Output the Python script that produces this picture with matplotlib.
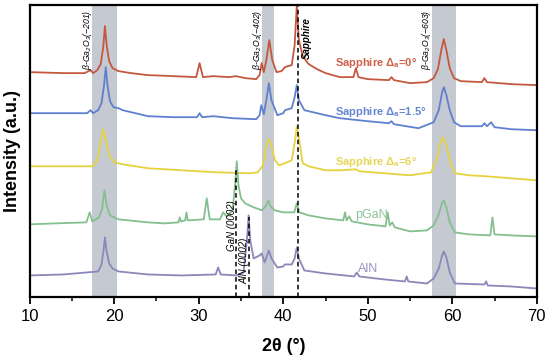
import matplotlib
matplotlib.use("Agg")
import matplotlib.pyplot as plt

plt.rcParams['font.family'] = ['Liberation Sans', 'DejaVu Sans']
plt.rcParams['mathtext.default'] = 'regular'

# XRD scans, (2theta, intensity a.u. incl. vertical offset)
red = [(10, 225), (14, 224), (16.5, 224), (17.2, 227), (17.5, 224), (18.0, 227), (18.4, 233),
       (18.7, 250), (18.9, 271), (19.1, 252), (19.4, 236), (19.8, 229), (20.5, 226), (22, 224),
       (24, 222), (27, 221), (29.7, 220), (30.1, 234), (30.5, 220), (31.7, 221), (33.6, 220),
       (34.4, 221), (35.5, 219), (36.8, 218), (37.2, 222), (37.45, 234), (37.7, 225), (38.0, 237),
       (38.35, 257), (38.7, 237), (39.2, 225), (39.8, 226), (40.2, 230), (41.0, 232), (41.35, 252),
       (41.6, 291), (41.85, 257), (42.3, 241), (43, 233), (44, 228), (45, 224), (46.7, 220),
       (48.3, 220), (48.6, 229), (48.9, 220), (50, 218), (52.5, 217), (52.8, 220), (53.1, 217),
       (55, 214), (57, 215), (57.8, 219), (58.3, 228), (58.7, 247), (59.0, 258), (59.3, 247),
       (59.7, 229), (60.2, 219), (61, 216), (63.5, 215), (63.8, 219), (64.1, 215), (67, 213),
       (70, 212)]
blue = [(10, 184), (16.8, 184), (17.2, 187), (17.5, 184), (18.1, 187), (18.5, 194), (18.8, 212),
        (19.0, 230), (19.2, 212), (19.5, 196), (19.9, 190), (20.5, 189), (21, 187), (24, 181),
        (27, 180), (29.8, 180), (30.1, 184), (30.4, 180), (31.7, 181), (34, 179), (36.8, 178),
        (37.2, 182), (37.4, 192), (37.7, 183), (38.0, 197), (38.3, 214), (38.6, 197), (39.3, 182),
        (40.0, 184), (40.2, 187), (41.0, 189), (41.35, 200), (41.6, 212), (41.85, 197), (42.5, 187),
        (44, 184), (45, 182), (46.7, 179), (50, 176), (52.5, 174), (52.8, 176), (53.1, 173),
        (56, 169), (57.8, 175), (58.4, 187), (58.8, 205), (59.0, 210), (59.3, 202), (59.7, 187),
        (60.2, 175), (61, 171), (63.5, 171), (63.8, 174), (64.1, 171), (64.6, 175), (65, 170),
        (67, 168), (70, 167)]
yellow = [(10, 131), (14, 131), (17.5, 131), (18.0, 137), (18.4, 157), (18.7, 168), (19.0, 157),
          (19.4, 142), (20, 135), (21, 133), (24, 129), (28, 127), (32, 125), (36, 124),
          (37.0, 125), (37.6, 132), (38.0, 152), (38.25, 158), (38.6, 152), (39.0, 137),
          (39.5, 132), (40.2, 134), (41.0, 137), (41.4, 157), (41.6, 171), (41.9, 157),
          (42.3, 134), (43, 131), (45, 127), (46.7, 127), (48.6, 128), (49, 126), (52, 124),
          (55, 122), (57.5, 125), (58.2, 139), (58.6, 155), (58.9, 160), (59.3, 152), (59.8, 134),
          (60.3, 124), (62, 122), (64, 121), (67, 119), (70, 117)]
green = [(10, 73), (13, 74), (16.7, 75), (17.1, 85), (17.4, 76), (18.2, 80), (18.55, 88),
         (18.85, 107), (19.1, 92), (19.5, 82), (20.5, 78), (24, 75), (26, 74), (27.6, 75),
         (27.75, 80), (27.9, 76), (28.4, 77), (28.55, 85), (28.7, 77), (30.6, 78), (30.95, 99),
         (31.3, 78), (32.5, 78), (32.9, 85), (33.3, 81), (34.0, 87), (34.3, 112), (34.5, 136),
         (34.7, 112), (35.0, 99), (35.5, 94), (36.5, 90), (37.5, 87), (38.0, 92), (38.25, 97),
         (38.5, 91), (39, 87), (40, 85), (41.3, 85), (41.6, 94), (41.9, 85), (43, 82), (45, 79),
         (47.1, 77), (47.3, 85), (47.5, 77), (47.8, 81), (48.1, 76), (50, 73), (52.1, 71),
         (52.35, 85), (52.6, 72), (52.9, 75), (53.2, 70), (55, 66), (57, 67), (57.8, 72),
         (58.4, 83), (58.8, 95), (59.0, 97), (59.3, 90), (59.7, 75), (60.3, 65), (62, 63),
         (64.5, 62), (64.75, 80), (65.0, 63), (67, 62), (70, 61)]
purple = [(10, 22), (14, 23), (18.1, 26), (18.5, 33), (18.75, 48), (18.9, 60), (19.1, 46),
          (19.4, 34), (19.8, 29), (20.5, 26), (24, 23), (28, 22), (32.0, 23), (32.3, 30),
          (32.6, 23), (34.5, 22), (35.3, 25), (35.7, 57), (35.9, 82), (36.1, 57), (36.5, 39),
          (37.2, 42), (37.45, 44), (37.8, 35), (38.05, 41), (38.3, 47), (38.6, 39), (39.3, 30),
          (40.0, 31), (40.2, 33), (41.0, 33), (41.35, 39), (41.6, 50), (41.85, 39), (42.5, 27),
          (45, 24), (48.4, 21), (48.7, 25), (49.0, 21), (52, 18), (54.4, 16), (54.6, 21),
          (54.8, 16), (57, 14), (57.8, 19), (58.4, 29), (58.8, 42), (59.0, 46), (59.3, 40),
          (59.7, 25), (60.3, 14), (63.8, 13), (64.0, 16), (64.2, 12), (67, 11), (70, 9)]

scans = [red, blue, yellow, green, purple]
line_colors = ['#c4583f', '#5f80cf', '#e4d33f', '#84bf8e', '#8b87ba']
names = ['Sapphire Δ$_a$=0°', 'Sapphire Δ$_a$=1.5°', 'Sapphire Δ$_a$=6°', 'pGaN', 'AlN']
name_colors = ['#d05f48', '#6685d2', '#e6d655', '#8cc49a', '#9793c4']
name_pos = [(46.1, 234.5), (46.1, 185.5), (46.1, 135.5), (48.5, 82.5), (48.8, 28.5)]

bands = [(17.4, 20.3), (37.45, 38.95), (57.6, 60.45)]
peak_tags = ['β-Ga$_2$O$_3$(−201)', 'β-Ga$_2$O$_3$(−402)', 'β-Ga$_2$O$_3$(−603)']
peak_tag_pos = [(16.85, 287), (37.0, 287), (56.9, 287)]

fig = plt.figure(figsize=(5.5, 3.58), dpi=100)
ax = fig.add_axes([0.054, 0.169, 0.922, 0.817])

for lo, hi in bands:
    ax.axvspan(lo, hi, color='#c5c9d1', lw=0, zorder=0)

for pts, c in zip(scans, line_colors):
    xs = [p[0] for p in pts]
    ys = [p[1] for p in pts]
    ax.plot(xs, ys, color=c, lw=1.3, zorder=2)

# reference lines
ax.axvline(41.7, color='k', ls='--', lw=1.1, dashes=(3, 2), zorder=3)
ax.plot([34.4, 34.4], [0, 130], color='k', ls='--', lw=1.1, dashes=(3, 2), zorder=3)
ax.plot([35.9, 35.9], [0, 80], color='k', ls='--', lw=1.1, dashes=(3, 2), zorder=3)

for t, (x, y) in zip(peak_tags, peak_tag_pos):
    ax.text(x, y, t, rotation=90, ha='center', va='top', fontsize=6.2, style='italic')
ax.text(42.75, 280, 'Sapphire', rotation=90, ha='center', va='top', fontsize=7,
        style='italic', weight='bold')
ax.text(33.95, 97.5, 'GaN (0002)', rotation=90, ha='center', va='top', fontsize=7, style='italic')
ax.text(35.45, 59.5, 'AlN (0002)', rotation=90, ha='center', va='top', fontsize=7, style='italic')

for i, (n, c, (x, y)) in enumerate(zip(names, name_colors, name_pos)):
    ax.text(x, y, n, color=c, fontsize=8 if i < 3 else 9, ha='left', va='center',
            weight='bold' if i < 3 else 'normal')

ax.set_xlim(10, 70)
ax.set_ylim(0, 292)
ax.set_xticks(range(10, 71, 10))
ax.set_xticks(range(15, 70, 10), minor=True)
ax.set_yticks([])
ax.tick_params(axis='x', which='major', length=5, width=1.3, labelsize=12)
ax.tick_params(axis='x', which='minor', length=3, width=1.1)
for s in ax.spines.values():
    s.set_linewidth(1.6)
ax.set_xlabel('2θ (°)', fontsize=13, weight='bold', labelpad=10)
ax.set_ylabel('Intensity (a.u.)', fontsize=13, weight='bold', labelpad=6)

fig.savefig('out.png', dpi=100)
